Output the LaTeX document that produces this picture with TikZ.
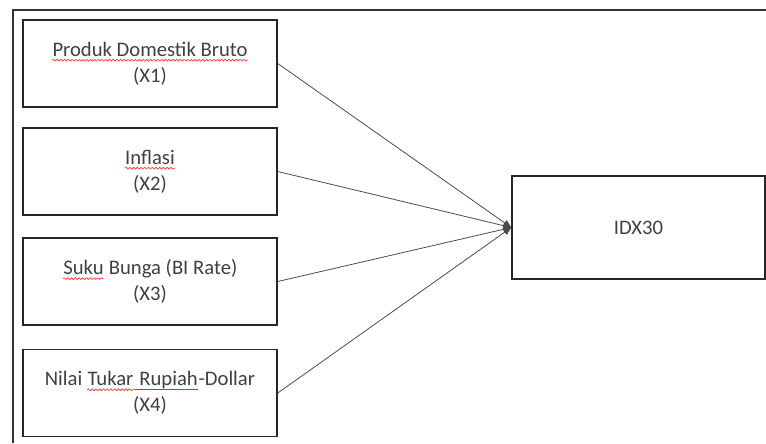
\documentclass[tikz,border=0pt]{standalone}
\usepackage{fontspec}
\setmainfont{Carlito}
\usetikzlibrary{arrows.meta,decorations.pathmorphing}
% spell-check marks under words
\newcommand\redwave[1]{\tikz[baseline=(w.base)]{\node[draw=none, inner sep=0pt, minimum width=0pt, minimum height=0pt] (w) {#1};
  \draw[red!80, line width=0.5pt, decorate, decoration={snake, amplitude=0.7pt, segment length=2.8pt}] ([yshift=-3pt]w.base west) -- ([yshift=-3pt]w.base east);}}
\newcommand\blueline[1]{\tikz[baseline=(w.base)]{\node[draw=none, inner sep=0pt, minimum width=0pt, minimum height=0pt] (w) {#1};
  \draw[blue!70, line width=0.7pt] ([yshift=-2.8pt]w.base west) -- ([yshift=-2.8pt]w.base east);}}
\begin{document}
\begin{tikzpicture}[x=0.75pt, y=-0.75pt,
    varbox/.style={draw=black!85, line width=1.1pt, minimum width=190.5pt, minimum height=65.25pt,
      align=center, text=black!75, font=\fontsize{15.5}{19.5}\selectfont},
    link/.style={draw=black!70, line width=0.6pt, -{Triangle[length=6pt, width=5pt]}}]
        \useasboundingbox (0,0) rectangle (766,443);
        \draw[black!80, line width=1.5pt] (766,10) -- (13,10) -- (13,443);
        \node[varbox] (pdb) at (150,63.5) {\redwave{Produk Domestik Bruto}\\(X1)};
        \node[varbox] (inf) at (150,171.5) {\redwave{Inflasi}\\(X2)};
        \node[varbox] (suku) at (150,281.5) {\redwave{Suku} Bunga (BI Rate)\\(X3)};
        \node[varbox] (kurs) at (150,393) {Nilai \redwave{Tukar}\blueline{\ Rupiah}-Dollar\\(X4)};
        \node[varbox, minimum width=189.75pt, minimum height=77.25pt] (idx) at (638.5,227.5) {IDX30};
        \draw[link] (pdb.east) -- (idx.west);
        \draw[link] (inf.east) -- (idx.west);
        \draw[link] (suku.east) -- (idx.west);
        \draw[link] (kurs.east) -- (idx.west);
\end{tikzpicture}
\end{document}
